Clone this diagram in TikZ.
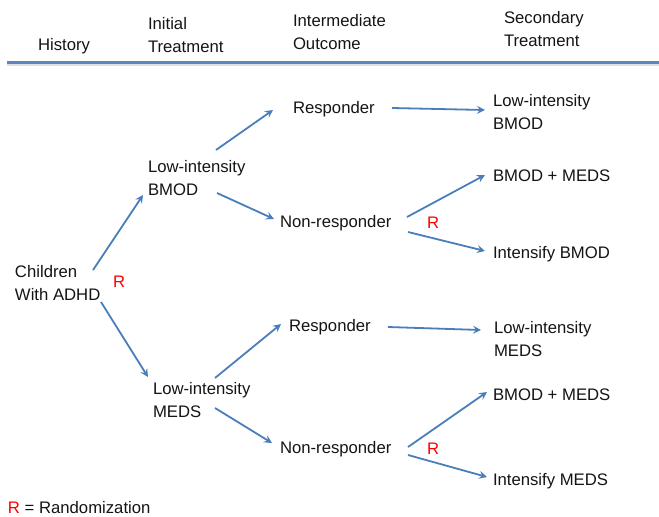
\documentclass[tikz,border=0pt]{standalone}
\usepackage{fontspec}
\setmainfont{Liberation Sans}
\usetikzlibrary{arrows.meta}
\definecolor{arrowblue}{HTML}{4A7EBB}
\definecolor{rulerblue}{HTML}{5B86BE}
\definecolor{txt}{HTML}{141414}
\begin{document}
\begin{tikzpicture}[x=1pt,y=-1pt,
  every node/.style={inner sep=0pt,outer sep=0pt,text=txt,
    font=\fontsize{16.7}{23}\selectfont},
  lbl/.style={anchor=base west},
  blk/.style={anchor=north west,align=left},
  rnd/.style={anchor=base west,text=red},
  arr/.style={draw=arrowblue,line width=1.8pt,
    -{Stealth[length=8pt,width=8pt,inset=3pt]}},
  hdr/.style={line width=2.8pt,draw=rulerblue}]
\useasboundingbox (0,0) rectangle (659,517);

% column headings
\node[lbl] (hHist) at (38,50) {History};
\node[blk] (hInit) at (148,17) {Initial\\Treatment};
\node[blk] (hInter) at (293,14) {Intermediate\\Outcome};
\node[blk] (hSec) at (504,11) {Secondary\\Treatment};
\draw[line width=2pt,draw=black!12] (7,64.5) -- (659,64.5);
\draw[hdr] (7,62.5) -- (659,62.5);

% stages
\node[blk] (chi) at (15,265) {Children\\With ADHD};
\node[rnd] (r0) at (113,287) {R};

\node[blk] (bmod) at (148,160) {Low-intensity\\BMOD};
\node[blk] (meds) at (153,382) {Low-intensity\\MEDS};

\node[lbl] (resp1) at (293,113) {Responder};
\node[lbl] (non1) at (280,227) {Non-responder};
\node[rnd] (r1) at (427,228) {R};
\node[lbl] (resp2) at (289,331) {Responder};
\node[lbl] (non2) at (280,453) {Non-responder};
\node[rnd] (r2) at (427,454) {R};

\node[blk] (sec1) at (493,94) {Low-intensity\\BMOD};
\node[lbl] (sec2) at (493,181) {BMOD + MEDS};
\node[lbl] (sec3) at (493,258) {Intensify BMOD};
\node[blk] (sec4) at (494,321) {Low-intensity\\MEDS};
\node[lbl] (sec5) at (493,400) {BMOD + MEDS};
\node[lbl] (sec6) at (493,485) {Intensify MEDS};

% legend
\node[lbl] (legend) at (8,513) {\textcolor{red}{R} = Randomization};

% connectors
\draw[arr] ([shift={(78,5)}]chi.north west) -- ([shift={(-5,35)}]bmod.north west);
\draw[arr] ([shift={(86,37)}]chi.north west) -- ([shift={(-5,-5)}]meds.north west);

\draw[arr] ([shift={(68,-10)}]bmod.north west) -- ([shift={(-20,-3)}]resp1.base west);
\draw[arr] ([shift={(69,33)}]bmod.north west) -- ([shift={(-6,-8)}]non1.base west);
\draw[arr] ([shift={(99,-5)}]resp1.base west) -- ([shift={(-8,16)}]sec1.north west);
\draw[arr] ([shift={(127,-10)}]non1.base west) -- ([shift={(-8,-6)}]sec2.base west);
\draw[arr] ([shift={(128,5)}]non1.base west) -- ([shift={(-8,-7)}]sec3.base west);

\draw[arr] ([shift={(62,-4)}]meds.north west) -- ([shift={(-8,-7)}]resp2.base west);
\draw[arr] ([shift={(62,26)}]meds.north west) -- ([shift={(-8,-10)}]non2.base west);
\draw[arr] ([shift={(99,-4)}]resp2.base west) -- ([shift={(-13,9)}]sec4.north west);
\draw[arr] ([shift={(128,-6)}]non2.base west) -- ([shift={(-6,-8)}]sec5.base west);
\draw[arr] ([shift={(128,2)}]non2.base west) -- ([shift={(-6,-8)}]sec6.base west);
\end{tikzpicture}
\end{document}
